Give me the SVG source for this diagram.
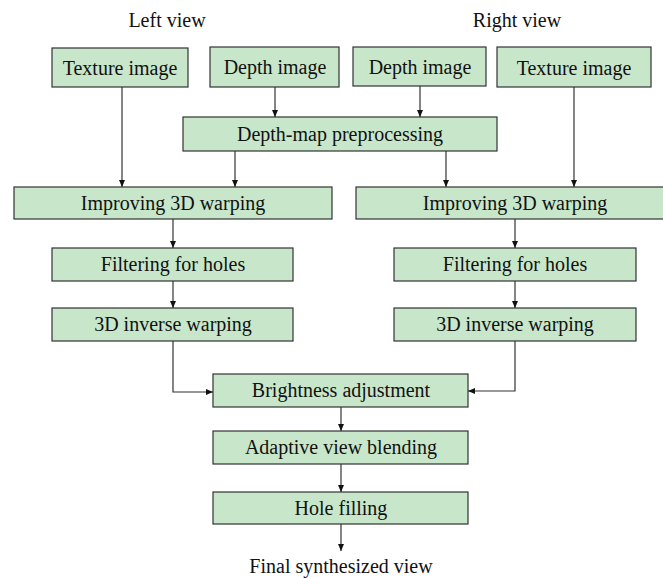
<svg xmlns="http://www.w3.org/2000/svg" width="663" height="578" viewBox="0 0 663 578">
<style>
.box{fill:#c8e7ca;stroke:#333;stroke-width:1.2}
.t{font-family:"Liberation Serif","Times New Roman",serif;font-size:20px;fill:#111;text-anchor:middle}
.c{fill:none;stroke:#333;stroke-width:1.2;marker-end:url(#ah)}
</style>
<defs>
<marker id="ah" markerWidth="8" markerHeight="8" refX="7" refY="4" orient="auto" markerUnits="userSpaceOnUse">
<path d="M0,1 L7,4 L0,7 Z" fill="#111"/>
</marker>
</defs>
<rect width="663" height="578" fill="#fff"/>
<text class="t" x="167" y="27">Left view</text>
<text class="t" x="517" y="27">Right view</text>
<g id="connectors">
<path class="c" d="M122,87 V187"/>
<path class="c" d="M275,87 V117"/>
<path class="c" d="M420,86 V117"/>
<path class="c" d="M574,87 V187"/>
<path class="c" d="M235,151 V187"/>
<path class="c" d="M446,151 V187"/>
<path class="c" d="M173,219 V248"/>
<path class="c" d="M515,219 V248"/>
<path class="c" d="M173,281 V308"/>
<path class="c" d="M515,281 V308"/>
<path class="c" d="M173,341 V392 H213"/>
<path class="c" d="M515,341 V391 H468"/>
<path class="c" d="M341,407 V431"/>
<path class="c" d="M341,464 V492"/>
<path class="c" d="M341,524 V551"/>
</g>
<g id="tex-left"><rect class="box" x="52" y="48" width="136" height="39"/><text class="t" x="120" y="75">Texture image</text></g>
<g id="depth-left"><rect class="box" x="210" y="47" width="129" height="40"/><text class="t" x="275" y="74">Depth image</text></g>
<g id="depth-right"><rect class="box" x="353" y="47" width="133" height="39"/><text class="t" x="420" y="74">Depth image</text></g>
<g id="tex-right"><rect class="box" x="497" y="47" width="154" height="40"/><text class="t" x="574" y="75">Texture image</text></g>
<g id="depthmap"><rect class="box" x="183" y="117" width="314" height="34"/><text class="t" x="340" y="141">Depth-map preprocessing</text></g>
<g id="improve-left"><rect class="box" x="14" y="187" width="318" height="32"/><text class="t" x="173" y="210">Improving 3D warping</text></g>
<g id="improve-right"><rect class="box" x="356" y="187" width="318" height="32"/><text class="t" x="515" y="210">Improving 3D warping</text></g>
<g id="filter-left"><rect class="box" x="52" y="248" width="241" height="33"/><text class="t" x="173" y="271">Filtering for holes</text></g>
<g id="filter-right"><rect class="box" x="394" y="248" width="242" height="33"/><text class="t" x="515" y="271">Filtering for holes</text></g>
<g id="inverse-left"><rect class="box" x="52" y="308" width="241" height="33"/><text class="t" x="173" y="331">3D inverse warping</text></g>
<g id="inverse-right"><rect class="box" x="394" y="308" width="242" height="33"/><text class="t" x="515" y="331">3D inverse warping</text></g>
<g id="brightness"><rect class="box" x="213" y="374" width="255" height="33"/><text class="t" x="341" y="397">Brightness adjustment</text></g>
<g id="blending"><rect class="box" x="213" y="431" width="255" height="33"/><text class="t" x="341" y="454">Adaptive view blending</text></g>
<g id="holefill"><rect class="box" x="213" y="492" width="255" height="32"/><text class="t" x="341" y="515">Hole filling</text></g>
<text class="t" x="341" y="573">Final synthesized view</text>
</svg>
